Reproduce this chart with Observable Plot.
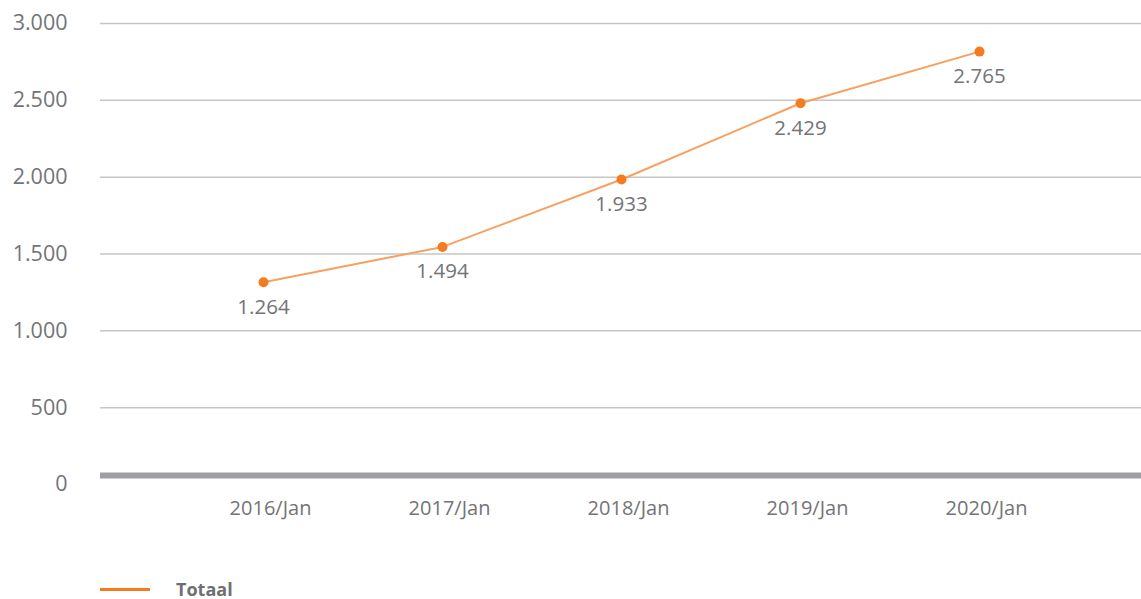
<!DOCTYPE html>
<html>
<head>
<meta charset="utf-8">
<script src="https://cdn.jsdelivr.net/npm/d3@7"></script>
<script src="https://cdn.jsdelivr.net/npm/@observablehq/plot@0.6"></script>
<style>
  html, body { margin: 0; padding: 0; background: #fff; }
  body { width: 1141px; height: 599px; position: relative; overflow: hidden; font-family: "Open Sans", sans-serif; }
  #legend { position: absolute; left: 100px; top: 578px; height: 22px; display: flex; align-items: center; gap: 26px; }
  #legend .sw { width: 50px; height: 3px; background: #f47b20; }
  #legend .lb { font-size: 18px; line-height: 22px; font-weight: 700; color: #6f6f72; }
</style>
</head>
<body>
<div id="chart"></div>
<div id="legend"><div class="sw"></div><div class="lb">Totaal</div></div>
<script>
const periods = ["2016/Jan", "2017/Jan", "2018/Jan", "2019/Jan", "2020/Jan"];
const totaal = [1264, 1494, 1933, 2429, 2765];
const yTicks = [0, 500, 1000, 1500, 2000, 2500, 3000];
const seriesName = "Totaal";

const data = periods.map((p, i) => ({period: p, value: totaal[i], series: seriesName}));
const fmt = d => d3.format(",")(d).replace(/,/g, ".");

const chart = Plot.plot({
  width: 1141,
  height: 560,
  marginLeft: 100,
  marginRight: 0,
  marginTop: 23,
  marginBottom: 76,
  style: {fontFamily: "'Open Sans', sans-serif", fontSize: "20px", color: "#747477", background: "#fff"},
  x: {type: "point", domain: periods, padding: 0.9, label: null},
  y: {domain: [0, 3000], ticks: yTicks, label: null},
  marks: [
    Plot.ruleY(yTicks.filter(d => d > 0), {stroke: "#c6c6c6", strokeWidth: 1.5}),
    Plot.ruleY([0], {stroke: "#a0a0a4", strokeWidth: 6, dy: -9}),
    Plot.axisY({ticks: yTicks, tickSize: 0, tickPadding: 33, tickFormat: fmt, fontSize: 21.5, fill: "#747477"}),
    Plot.axisX({tickSize: 0, tickPadding: 16, fontSize: 20, fill: "#747477", dx: 7}),
    Plot.line(data, {x: "period", y: "value", stroke: "#f7a060", strokeWidth: 2, dy: -8}),
    Plot.dot(data, {x: "period", y: "value", r: 5, fill: "#f47b20", dy: -8}),
    Plot.text(data, {x: "period", y: "value", text: d => fmt(d.value), dy: 17, fontSize: 20.5, fill: "#747477"})
  ]
});
document.getElementById("chart").appendChild(chart);
</script>
</body>
</html>
